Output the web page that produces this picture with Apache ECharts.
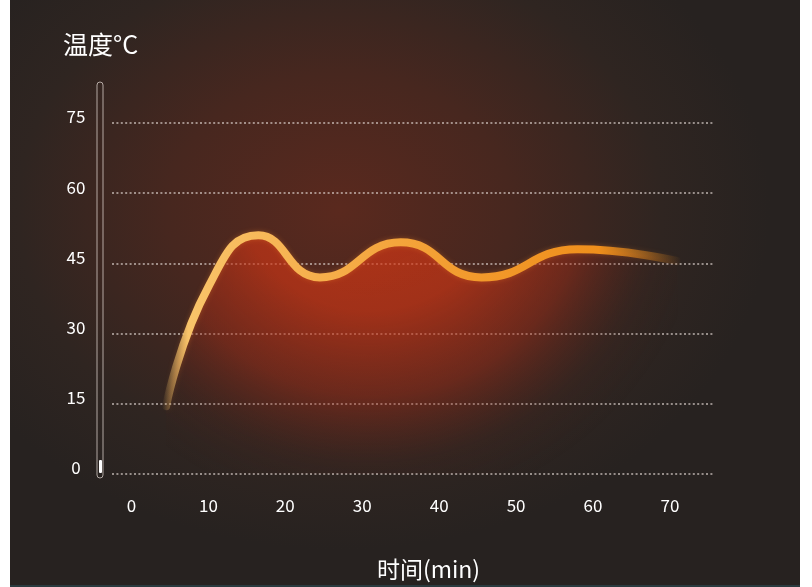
<!DOCTYPE html>
<html><head><meta charset="utf-8">
<script src="https://cdn.jsdelivr.net/npm/echarts@6/dist/echarts.min.js"></script>
<style>
html,body{margin:0;padding:0;background:#ffffff;width:812px;height:587px;overflow:hidden;position:relative}
#bg{position:absolute;left:10px;top:0;width:790px;height:585px;
background:radial-gradient(ellipse 430px 340px at 330px 210px,#5a291e 0%,#47271f 40%,#2f2521 75%,#272220 100%);}
#strip{position:absolute;left:10px;top:585px;width:790px;height:2px;background:#2a3a3e}
#chart{position:absolute;left:0;top:0;width:812px;height:587px}
</style></head>
<body><div id="bg"></div><div id="strip"></div><div id="chart"></div>
<script>
// data
const timeMin = [4.5, 10, 16.5, 24.5, 35, 45.5, 58, 71];
const tempC   = [14.5, 40, 51, 42, 49.5, 42, 48, 45.5];
const xTicks  = [0, 10, 20, 30, 40, 50, 60, 70];
const yTicks  = [0, 15, 30, 45, 60, 75];
const yTitle = '温度°C';
const xTitle = '时间(min)';

const font = "'Noto Sans CJK SC','Noto Sans',sans-serif";
const chart = echarts.init(document.getElementById('chart'), null, {renderer:'canvas', width:812, height:587});
const points = timeMin.map((t,i)=>[t,tempC[i]]);
chart.setOption({
  backgroundColor:'transparent',
  animation:false,
  title:{text:yTitle,left:63,top:32,padding:0,textStyle:{color:'#ffffff',fontSize:25,fontWeight:'normal',fontFamily:font}},
  grid:{left:112,right:99,top:123,bottom:113,containLabel:false},
  xAxis:{type:'value',min:-2.53,max:75.6,
    name:xTitle,nameLocation:'middle',nameGap:84,
    nameTextStyle:{color:'#ffffff',fontSize:23,fontFamily:font,padding:[0,0,0,32]},
    axisLine:{show:false},axisTick:{show:false},splitLine:{show:false},
    axisLabel:{customValues:xTicks,color:'#ffffff',fontSize:17,fontFamily:font,margin:23}},
  yAxis:{type:'value',min:0,max:75,interval:15,
    axisLine:{show:false},axisTick:{show:false},
    axisLabel:{color:'#ffffff',fontSize:17,fontFamily:font,margin:36,align:'center',verticalAlign:'bottom',lineHeight:12},
    splitLine:{show:true,lineStyle:{color:'rgba(225,215,210,0.8)',width:1.5,type:[2,2.4]}}},
  graphic:[
    {type:'rect',shape:{x:97,y:82,width:6,height:396,r:3},style:{fill:'none',stroke:'rgba(235,225,220,0.7)',lineWidth:1}},
    {type:'rect',shape:{x:99,y:460,width:3,height:13,r:1},style:{fill:'#ffffff'}}
  ],
  series:[{
    type:'line',data:points,smooth:0.5,showSymbol:false,
    lineStyle:{width:8,cap:'round',
      shadowColor:'rgba(255,140,40,0.3)',shadowBlur:5,
      color:new echarts.graphic.LinearGradient(0,0,1,0,[
        {offset:0,color:'rgba(250,200,110,0)'},
        {offset:0.05,color:'#f9c46a'},
        {offset:0.3,color:'#f6af4c'},
        {offset:0.6,color:'#f29a2c'},
        {offset:0.84,color:'#ef8f1c'},
        {offset:1,color:'rgba(239,143,28,0)'}])},
    areaStyle:{color:new echarts.graphic.RadialGradient(370,175,340,[
        {offset:0,color:'rgba(220,58,22,1)'},
        {offset:0.4,color:'rgba(205,54,22,0.95)'},
        {offset:0.65,color:'rgba(170,46,24,0.6)'},
        {offset:0.85,color:'rgba(110,38,26,0.15)'},
        {offset:1,color:'rgba(80,34,26,0)'}],true)}
  }]
});
</script></body></html>
